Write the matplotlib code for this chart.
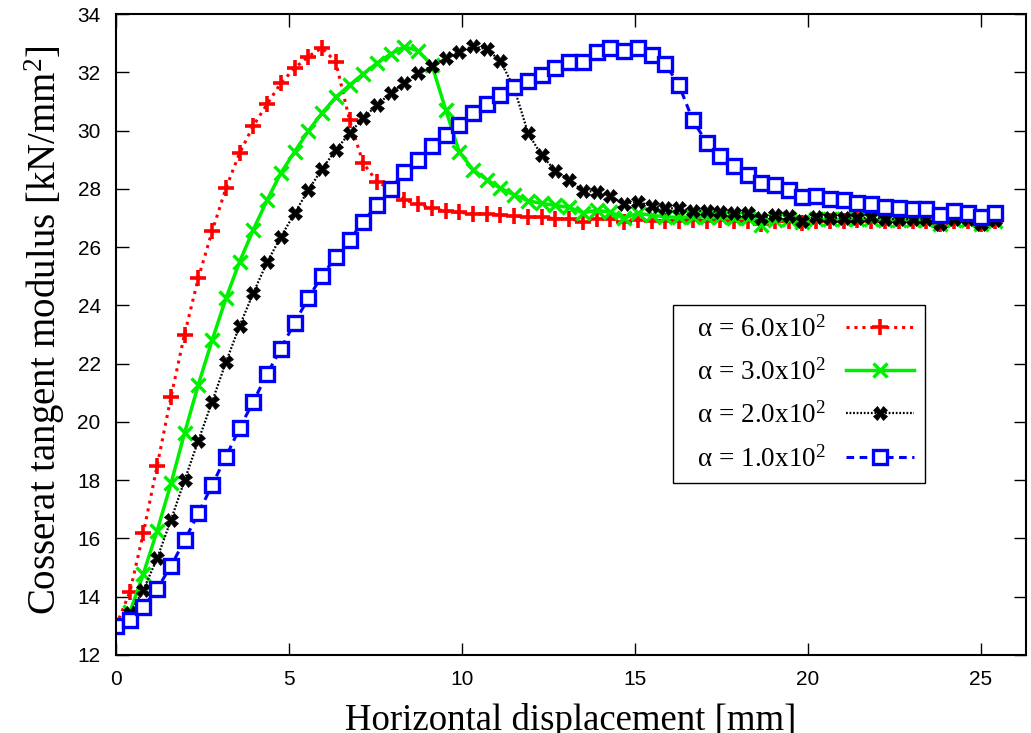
import matplotlib
matplotlib.use("Agg")
import matplotlib.pyplot as plt

plt.rcParams['mathtext.fontset'] = 'custom'
plt.rcParams['mathtext.rm'] = 'Liberation Serif'
plt.rcParams['mathtext.it'] = 'Liberation Serif:italic'

# horizontal displacement [mm]
disp = [0.00, 0.40, 0.79, 1.19, 1.59, 1.98, 2.38, 2.78, 3.18, 3.57,
        3.97, 4.37, 4.76, 5.16, 5.56, 5.95, 6.35, 6.75, 7.14, 7.54,
        7.94, 8.33, 8.73, 9.13, 9.53, 9.92, 10.32, 10.72, 11.11, 11.51,
        11.91, 12.30, 12.70, 13.10, 13.49, 13.89, 14.29, 14.68, 15.08, 15.48,
        15.88, 16.27, 16.67, 17.07, 17.46, 17.86, 18.26, 18.65, 19.05, 19.45,
        19.84, 20.24, 20.64, 21.03, 21.43, 21.83, 22.23, 22.62, 23.02, 23.42,
        23.81, 24.21, 24.61, 25.00, 25.40]

# Cosserat tangent modulus [kN/mm^2] for each alpha
mod_a600 = [13.00, 14.16, 16.18, 18.50, 20.86, 23.00, 24.94, 26.55, 28.03, 29.22,
            30.17, 30.91, 31.62, 32.14, 32.54, 32.84, 32.36, 30.36, 28.89, 28.25,
            27.98, 27.62, 27.48, 27.33, 27.23, 27.19, 27.15, 27.15, 27.10, 27.07,
            27.02, 27.02, 26.98, 26.98, 26.87, 26.98, 26.98, 26.87, 26.93, 26.89,
            26.90, 26.90, 26.92, 26.90, 26.92, 26.90, 26.90, 26.78, 26.90, 26.90,
            26.82, 26.90, 26.90, 26.90, 26.92, 26.90, 26.90, 26.90, 26.90, 26.90,
            26.80, 26.90, 26.90, 26.80, 26.90]
mod_a300 = [13.00, 13.47, 14.78, 16.27, 17.89, 19.61, 21.28, 22.81, 24.25, 25.49,
            26.60, 27.62, 28.53, 29.27, 29.99, 30.59, 31.14, 31.56, 31.94, 32.31,
            32.63, 32.88, 32.74, 32.25, 30.71, 29.27, 28.65, 28.31, 28.02, 27.79,
            27.59, 27.50, 27.43, 27.36, 27.18, 27.26, 27.20, 26.99, 27.16, 27.09,
            27.04, 27.02, 27.04, 27.03, 27.02, 26.99, 26.99, 26.76, 26.93, 26.95,
            26.85, 26.95, 26.95, 26.95, 26.95, 26.95, 26.93, 26.93, 26.93, 26.93,
            26.78, 26.93, 26.93, 26.78, 26.90]
mod_a200 = [13.00, 13.43, 14.23, 15.32, 16.64, 17.99, 19.36, 20.70, 22.06, 23.29,
            24.43, 25.49, 26.34, 27.16, 27.96, 28.67, 29.33, 29.91, 30.42, 30.88,
            31.28, 31.64, 31.96, 32.22, 32.48, 32.71, 32.90, 32.79, 32.39, 31.45,
            29.91, 29.15, 28.62, 28.30, 27.93, 27.90, 27.75, 27.48, 27.56, 27.41,
            27.33, 27.33, 27.25, 27.25, 27.19, 27.16, 27.16, 26.99, 27.10, 27.07,
            26.91, 27.04, 27.01, 26.99, 26.99, 27.02, 26.96, 26.96, 26.96, 26.95,
            26.79, 26.95, 26.95, 26.79, 26.93]
mod_a100 = [13.00, 13.20, 13.64, 14.27, 15.06, 15.93, 16.86, 17.84, 18.81, 19.78,
            20.70, 21.65, 22.50, 23.40, 24.25, 25.01, 25.65, 26.24, 26.87, 27.45,
            27.98, 28.59, 28.99, 29.47, 29.85, 30.19, 30.59, 30.91, 31.22, 31.48,
            31.70, 31.91, 32.14, 32.34, 32.34, 32.71, 32.84, 32.74, 32.82, 32.59,
            32.28, 31.56, 30.36, 29.58, 29.13, 28.78, 28.47, 28.19, 28.13, 27.96,
            27.71, 27.75, 27.65, 27.62, 27.52, 27.47, 27.39, 27.33, 27.30, 27.30,
            27.10, 27.25, 27.18, 27.02, 27.18]

labels = ['  α = 6.0x10$^2$', '  α = 3.0x10$^2$',
          '  α = 2.0x10$^2$', '  α = 1.0x10$^2$']

fig = plt.figure(figsize=(10.31, 7.33), dpi=100)
ax = fig.add_axes([116 / 1031, 78 / 733, 910 / 1031, 641 / 733])

ax.plot(disp, mod_a600, color='#ff0000', lw=2.2, ls=(0, (1, 1.6)),
        marker='+', ms=11, mew=2.6, label=labels[0])
ax.plot(disp, mod_a300, color='#00ee00', lw=2.5, ls='-',
        marker='x', ms=10, mew=2.4, label=labels[1])
ax.plot(disp, mod_a200, color='black', lw=1.6, ls=(0, (0.8, 0.8)),
        marker='X', ms=10, mew=0.5, label=labels[2])
ax.plot(disp, mod_a100, color='#0000ff', lw=2.2, ls=(0, (2.5, 1.8)),
        marker='s', ms=10, mew=2.4, mfc='white', label=labels[3])

ax.set_xlim(0, 26.3)
ax.set_ylim(12, 34)
ax.set_xticks([0, 5, 10, 15, 20, 25])
ax.set_yticks(range(12, 35, 2))

ax.tick_params(direction='in', length=9, width=1, top=True, right=True)
ax.tick_params(axis='y', labelsize=15, pad=11)
ax.tick_params(axis='x', labelsize=15, pad=11)
for t in ax.get_xticklabels() + ax.get_yticklabels():
    t.set_fontfamily(['Liberation Sans', 'DejaVu Sans'])
for s in ax.spines.values():
    s.set_linewidth(1.5)

fig.text(45 / 1031, 1 - 330 / 733, r'Cosserat tangent modulus [kN/mm$^2$]',
         rotation=90, ha='center', va='center', fontsize=28,
         family='Liberation Serif')
fig.text(571 / 1031, 1 - 730 / 733, 'Horizontal displacement [mm]',
         ha='center', va='baseline', fontsize=26.5, family='Liberation Serif')

leg = ax.legend(loc='upper left', bbox_to_anchor=(0.612, 0.546),
                borderaxespad=0, markerfirst=False, numpoints=1,
                handlelength=2.5, handletextpad=0.75, labelspacing=0.62,
                fancybox=False, framealpha=1, edgecolor='black',
                prop={'family': 'Liberation Serif', 'size': 19.5})
leg.get_frame().set_linewidth(1.0)

fig.savefig('out.png', dpi=100)
